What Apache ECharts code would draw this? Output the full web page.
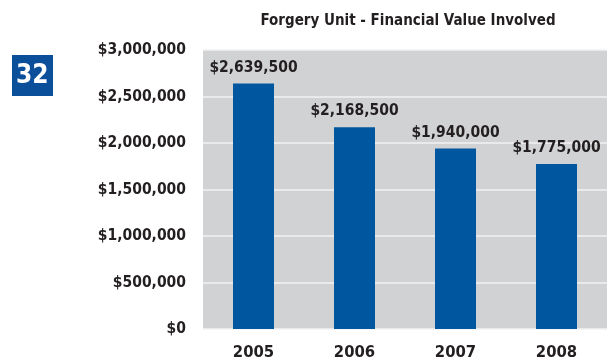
<!DOCTYPE html>
<html>
<head>
<meta charset="utf-8">
<script src="https://cdn.jsdelivr.net/npm/echarts@6/dist/echarts.min.js"></script>
<style>
  html, body { margin: 0; padding: 0; background: #fff; }
  #chart { width: 610px; height: 362px; }
</style>
</head>
<body>
<div id="chart"></div>
<script>
// Financial value involved in forgery cases, per year
const years = ['2005', '2006', '2007', '2008'];
const values = [2639500, 2168500, 1940000, 1775000];
const yTicks = [0, 500000, 1000000, 1500000, 2000000, 2500000, 3000000];

const FONT = '"Liberation Sans Narrow", "DejaVu Sans Condensed", "Arial Narrow", sans-serif';
const TEXT = '#231f20';

function money(v) {
  return '$' + Math.round(v).toString().replace(/\B(?=(\d{3})+(?!\d))/g, ',');
}

const chart = echarts.init(document.getElementById('chart'));
chart.setOption({
  animation: false,
  title: {
    text: 'Forgery Unit - Financial Value Involved',
    left: 403, top: 9, textAlign: 'center',
    textStyle: { fontFamily: FONT, fontWeight: 'bold', fontSize: 15, color: TEXT }
  },
  graphic: [
    { type: 'rect', left: 12, top: 55, shape: { width: 41, height: 41 }, style: { fill: '#0b4f9b' } },
    { type: 'text', left: 16, top: 63, style: { text: '32', fill: '#fff', font: 'bold 26px ' + FONT } }
  ],
  grid: { left: 203, right: 3, top: 50, bottom: 33, backgroundColor: '#d1d2d4', show: true, borderWidth: 0 },
  xAxis: {
    type: 'category', data: years,
    axisLine: { show: false }, axisTick: { show: false },
    axisLabel: { fontFamily: FONT, fontWeight: 'bold', fontSize: 16.5, color: TEXT, margin: 15 }
  },
  yAxis: {
    type: 'value', min: yTicks[0], max: yTicks[yTicks.length - 1], interval: yTicks[1] - yTicks[0],
    axisLine: { show: false }, axisTick: { show: false },
    splitLine: { show: true, lineStyle: { color: '#f2f2f2', width: 1.5 } },
    axisLabel: { fontFamily: FONT, fontWeight: 'bold', fontSize: 15.5, color: TEXT, margin: 17, formatter: money }
  },
  series: [{
    type: 'bar', data: values, barWidth: 41,
    itemStyle: { color: '#0057a0' },
    label: {
      show: true, position: 'top', distance: 8,
      fontFamily: FONT, fontWeight: 'bold', fontSize: 15.5, color: TEXT,
      formatter: p => money(p.value)
    }
  }]
});
</script>
</body>
</html>
